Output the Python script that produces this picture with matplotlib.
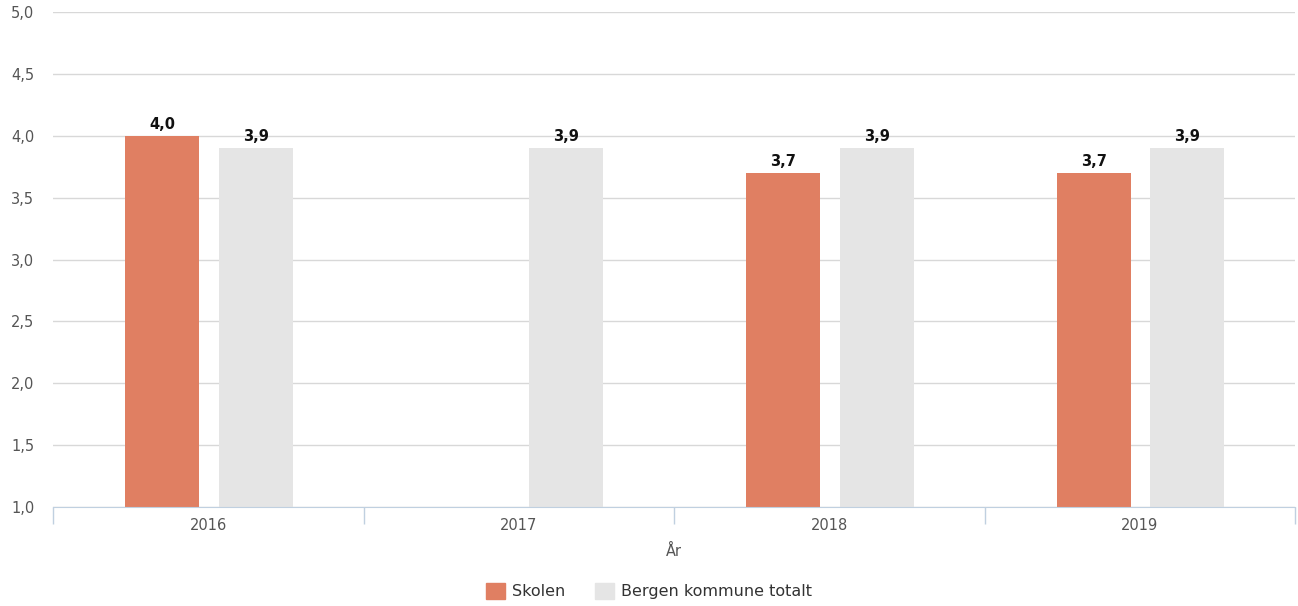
import matplotlib
matplotlib.use("Agg")
import matplotlib.pyplot as plt
import numpy as np
from matplotlib.patches import Patch

years = ["2016", "2017", "2018", "2019"]
skolen = [4.0, None, 3.7, 3.7]
bergen = [3.9, 3.9, 3.9, 3.9]
yticks = [1.0, 1.5, 2.0, 2.5, 3.0, 3.5, 4.0, 4.5, 5.0]

c_skolen = "#E07F62"
c_bergen = "#E5E5E5"

plt.rcParams["font.family"] = ["DejaVu Sans"]

fig = plt.figure(figsize=(12.98, 6.06), dpi=100)
ax = fig.add_axes([53 / 1298, 1 - 507 / 606, (1295 - 53) / 1298, (507 - 12) / 606])

x = np.arange(len(years))
w = 0.238
base = 1.0

for i, v in enumerate(skolen):
    if v is None:
        continue
    ax.bar(x[i] - 0.148, v - base, w, bottom=base, color=c_skolen, zorder=3)
    ax.text(x[i] - 0.148, v + 0.03, f"{v:.1f}".replace(".", ","), ha="center", va="bottom",
            fontsize=10.5, fontweight="bold", color="#111111", zorder=4)
for i, v in enumerate(bergen):
    ax.bar(x[i] + 0.153, v - base, w, bottom=base, color=c_bergen, zorder=3)
    ax.text(x[i] + 0.153, v + 0.03, f"{v:.1f}".replace(".", ","), ha="center", va="bottom",
            fontsize=10.5, fontweight="bold", color="#111111", zorder=4)

ax.set_xlim(-0.5, len(years) - 0.5)
ax.set_ylim(1.0, 5.0)
ax.set_yticks(yticks)
ax.set_yticklabels([f"{t:.1f}".replace(".", ",") for t in yticks], fontsize=10.5, color="#555555")
ax.grid(axis="y", color="#D8D8D8", linewidth=1, zorder=0)
ax.tick_params(axis="y", length=0, pad=13.5)

ax.set_xticks(x)
ax.set_xticklabels(years, fontsize=10.5, color="#555555")
ax.set_xticks(np.arange(len(years) + 1) - 0.5, minor=True)
ax.tick_params(axis="x", which="major", length=0, pad=8)
ax.tick_params(axis="x", which="minor", length=12, color="#C0D0E0", width=1)
ax.set_xlabel("År", fontsize=10.5, color="#555555", labelpad=8)

for s in ["top", "right", "left"]:
    ax.spines[s].set_visible(False)
ax.spines["bottom"].set_color("#C0D0E0")
ax.spines["bottom"].set_zorder(5)

handles = [Patch(color=c_skolen, label="Skolen"), Patch(color=c_bergen, label="Bergen kommune totalt")]
fig.legend(handles=handles, loc="center", bbox_to_anchor=(0.5, 1 - 591 / 606), ncol=2, frameon=False,
           fontsize=11.5, handlelength=1.2, handleheight=1.2, handletextpad=0.4, columnspacing=1.9,
           labelcolor="#333333")

fig.savefig("out.png", dpi=100)
